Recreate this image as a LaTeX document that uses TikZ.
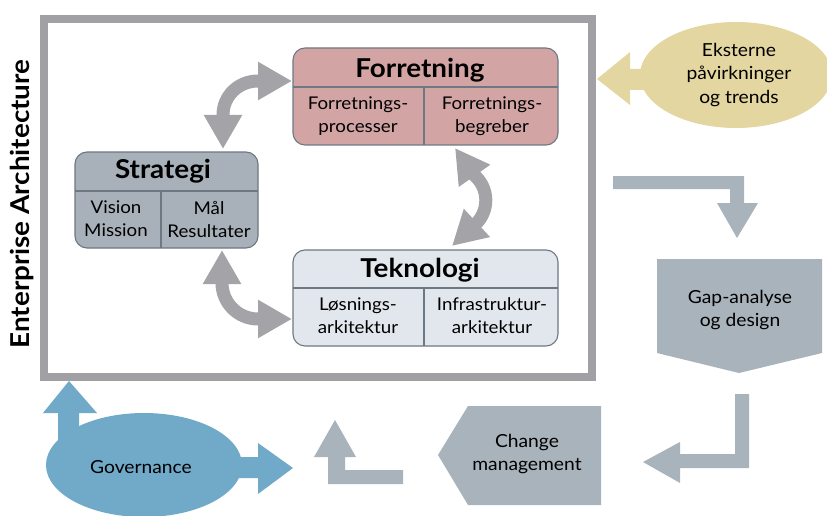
\documentclass[tikz,border=0pt]{standalone}
\usepackage{fontspec}
\setmainfont{Lato}[FakeStretch=1.07]
\usetikzlibrary{arrows.meta,shapes.geometric}
\definecolor{framegray}{HTML}{A0A0A5}
\definecolor{arrgray}{HTML}{A3A3A8}
\definecolor{flowgray}{HTML}{A9B3BC}
\definecolor{forrfill}{HTML}{D3A4A4}
\definecolor{stratfill}{HTML}{A8B1B9}
\definecolor{teknfill}{HTML}{E1E7ED}
\definecolor{boxline}{HTML}{6E7883}
\definecolor{ekstfill}{HTML}{E4D6A0}
\definecolor{govfill}{HTML}{71A9C9}
\begin{document}
\begin{tikzpicture}[x=1pt,y=-1pt,
  box/.style={draw=boxline, line width=1.1pt, rounded corners=12pt, inner sep=0pt},
  divline/.style={draw=boxline, line width=1.1pt},
  titletext/.style={font=\fontsize{26}{30}\selectfont\bfseries, inner sep=0pt},
  celltext/.style={font=\fontsize{17.5}{23}\selectfont, align=center, inner sep=0pt},
  plaintext/.style={font=\fontsize{18}{23.5}\selectfont, align=center, inner sep=0pt},
  dblarrow/.style={draw=arrgray, line width=13pt, {Triangle[width=36pt,length=34pt]}-{Triangle[width=36pt,length=34pt]}},
]
\useasboundingbox (0,0) rectangle (827,516);

% main frame
\node[draw=framegray, line width=8.5pt, minimum width=548pt, minimum height=358pt, inner sep=0pt] (frame) at (318,198) {};
\node[rotate=90, font=\fontsize{26}{30}\selectfont\bfseries, inner sep=0pt] (ea) at (22,204) {Enterprise Architecture};

% Forretning
\node[box, fill=forrfill, minimum width=265pt, minimum height=97pt] (forr) at (425.5,96.5) {};
\draw[divline] (293,87) -- (558,87);
\draw[divline] (424,87) -- (424,145);
\node[titletext] (forrt) at (420,70) {Forretning};
\node[celltext] (forr1) at (358,116) {Forretnings-\\processer};
\node[celltext] (forr2) at (492,116) {Forretnings-\\begreber};

% Strategi
\node[box, fill=stratfill, minimum width=183pt, minimum height=96pt] (strat) at (166.5,200) {};
\draw[divline] (75,191) -- (258,191);
\draw[divline] (161,191) -- (161,248);
\node[titletext] (stratt) at (163,171) {Strategi};
\node[celltext] (strat1) at (116,219) {Vision\\Mission};
\node[celltext] (strat2) at (209,219) {Mål\\Resultater};

% Teknologi
\node[box, fill=teknfill, minimum width=265pt, minimum height=96pt] (tekn) at (425.5,298) {};
\draw[divline] (293,288) -- (558,288);
\draw[divline] (424,288) -- (424,346);
\node[titletext] (teknt) at (420,270) {Teknologi};
\node[celltext] (tekn1) at (358,316) {Løsnings-\\arkitektur};
\node[celltext] (tekn2) at (492,316) {Infrastruktur-\\arkitektur};

% double arrows
\draw[dblarrow] (223,149) -- (223,115) .. controls (223,95.7) and (238.7,81) .. (258,81) -- (292,81);
\draw[dblarrow] (222,250) -- (222,283) .. controls (222,302.9) and (238.1,319) .. (258,319) -- (292,319);
\draw[dblarrow] (455,148) -- (474,175) .. controls (489.2,187.7) and (489.8,210.9) .. (475.3,224.4) -- (452,246);

% Eksterne
\fill[ekstfill] (597,79) -- (630,52) -- (630,69) -- (680,69) -- (680,90) -- (630,90) -- (630,105) -- cycle;
\node[ellipse, fill=ekstfill, minimum width=192pt, minimum height=106pt, inner sep=0pt] (ekst) at (736,75) {};
\node[plaintext] (eksttext) at (739,75) {Eksterne\\påvirkninger\\og trends};

% flow arrows
\fill[flowgray] (613,176) -- (744,176) -- (744,203) -- (758,203) -- (737,238) -- (717,203) -- (730,203) -- (730,189) -- (613,189) -- cycle;
\fill[flowgray] (735,394) -- (749,394) -- (749,468) -- (680,468) -- (680,483) -- (643,462) -- (680,442) -- (680,454) -- (735,454) -- cycle;
\fill[flowgray] (403,470) -- (403,484) -- (328,484) -- (328,457) -- (314,457) -- (335,420) -- (356,457) -- (345,457) -- (345,470) -- cycle;

% Gap-analyse
\fill[flowgray] (657,259) -- (822,259) -- (822,353) -- (739,373) -- (657,353) -- cycle;
\node[plaintext] (gap) at (740,310) {Gap-analyse\\og design};

% Change management
\fill[flowgray] (601,406) -- (601,505) -- (468,505) -- (438,455) -- (468,406) -- cycle;
\node[plaintext] (change) at (527,454) {Change\\management};

% Governance
\fill[govfill] (58,440) -- (58,413) -- (43,413) -- (69,381) -- (97,413) -- (79,413) -- (79,440) -- cycle;
\fill[govfill] (220,457) -- (258,457) -- (258,443) -- (293,468) -- (258,494) -- (258,478) -- (220,478) -- cycle;
\node[ellipse, fill=govfill, minimum width=196pt, minimum height=104pt, inner sep=0pt] (gov) at (144,465) {};
\node[plaintext] (govtext) at (141,467) {Governance};
\end{tikzpicture}
\end{document}
